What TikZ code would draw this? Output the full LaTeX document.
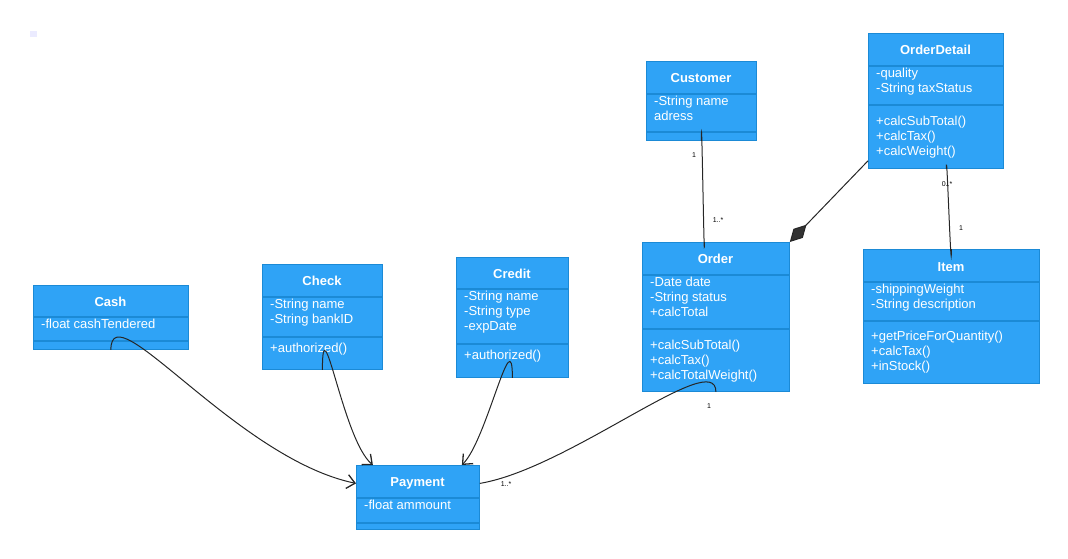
\documentclass[tikz,border=0pt]{standalone}
\usepackage{fontspec}
\setmainfont{Liberation Sans}
\usetikzlibrary{arrows.meta}
\definecolor{cfill}{HTML}{2FA3F6}
\definecolor{cline}{HTML}{1B8AD6}
\begin{document}
\begin{tikzpicture}[x=1pt,y=-1pt,
  box/.style={draw=cline,fill=cfill,anchor=north west,inner sep=0,line width=0.8pt},
  div/.style={draw=cline,line width=1.2pt},
  ttl/.style={text=white,font=\fontsize{13}{15}\selectfont\bfseries,inner sep=0},
  txt/.style={text=white,font=\fontsize{13}{15}\selectfont,anchor=north west,inner sep=0,align=left},
  lab/.style={font=\fontsize{7}{8}\selectfont,inner sep=0},
  con/.style={line width=1pt,black!85},
  arr/.style={con,-{Straight Barb[length=8pt,width=14pt,line width=1.3pt]}}]
\useasboundingbox (0,0) rectangle (1068,558);
\fill[blue!8] (30,31) rectangle (37,37);
% Cash
\node[box,minimum width=155,minimum height=64] (cash) at (33,285) {};
\draw[div] (33,317) -- (188,317) (33,341) -- (188,341);
\node[ttl] (cashT) at (110.5,302) {Cash};
\node[txt] (cashA) at (41,319) {-float cashTendered};
% Check
\node[box,minimum width=120,minimum height=105] (check) at (262,264) {};
\draw[div] (262,297) -- (382,297) (262,337) -- (382,337);
\node[ttl] (checkT) at (322,281) {Check};
\node[txt] (checkA) at (270,299) {-String name\\-String bankID};
\node[txt] (checkM) at (270,343) {+authorized()};
% Credit
\node[box,minimum width=112,minimum height=120] (credit) at (456,257) {};
\draw[div] (456,289) -- (568,289) (456,344) -- (568,344);
\node[ttl] (creditT) at (512,274) {Credit};
\node[txt] (creditA) at (464,291) {-String name\\-String type\\-expDate};
\node[txt] (creditM) at (464,350) {+authorized()};
% Payment
\node[box,minimum width=123,minimum height=64] (payment) at (356,465) {};
\draw[div] (356,498) -- (479,498) (356,523) -- (479,523);
\node[ttl] (paymentT) at (417.5,483) {Payment};
\node[txt] (paymentA) at (364,500) {-float ammount};
% Customer
\node[box,minimum width=110,minimum height=79] (customer) at (646,61) {};
\draw[div] (646,94) -- (756,94) (646,132) -- (756,132);
\node[ttl] (customerT) at (701,78) {Customer};
\node[txt] (customerA) at (654,96) {-String name\\adress};
% OrderDetail
\node[box,minimum width=135,minimum height=135] (od) at (868,33) {};
\draw[div] (868,66) -- (1003,66) (868,105) -- (1003,105);
\node[ttl] (odT) at (935.5,50) {OrderDetail};
\node[txt] (odA) at (876,68) {-quality\\-String taxStatus};
\node[txt] (odM) at (876,116) {+calcSubTotal()\\+calcTax()\\+calcWeight()};
% Order
\node[box,minimum width=147,minimum height=149] (order) at (642,242) {};
\draw[div] (642,275) -- (789,275) (642,329) -- (789,329);
\node[ttl] (orderT) at (715.5,259) {Order};
\node[txt] (orderA) at (650,277) {-Date date\\-String status\\+calcTotal};
\node[txt] (orderM) at (650,340) {+calcSubTotal()\\+calcTax()\\+calcTotalWeight()};
% Item
\node[box,minimum width=176,minimum height=134] (item) at (863,249) {};
\draw[div] (863,282) -- (1039,282) (863,321) -- (1039,321);
\node[ttl] (itemT) at (951,267) {Item};
\node[txt] (itemA) at (871,284) {-shippingWeight\\-String description};
\node[txt] (itemM) at (871,331) {+getPriceForQuantity()\\+calcTax()\\+inStock()};
% connectors
\draw[arr] (cash.south) .. controls +(0,-60) and +(-120,-25) .. ([yshift=14pt]payment.west);
\draw[arr] (check.south) .. controls +(0,-70) and +(-30,-25) .. ([xshift=-45pt]payment.north);
\draw[arr] (credit.south) .. controls +(0,-60) and +(25,-25) .. ([xshift=44pt]payment.north);
\draw[con] (order.south) .. controls +(0,-45) and +(90,-15) .. ([yshift=14pt]payment.east);
\draw[con] (customer.south) .. controls +(0,-50) and +(0,40) .. ([xshift=-11.5pt]order.north);
\draw[con,-{Diamond[fill=black!80,length=24pt,width=13pt]}] ([yshift=8pt]od.south west) -- (order.north east);
\draw[con] ([xshift=10.5pt]od.south) .. controls +(0,-30) and +(0,40) .. (item.north);
\node[lab] (l1) at (694,155) {1};
\node[lab] (l2) at (718,220) {1..*};
\node[lab] (l3) at (947,184) {0..*};
\node[lab] (l4) at (961,228) {1};
\node[lab] (l5) at (709,406) {1};
\node[lab] (l6) at (506,484) {1..*};
\end{tikzpicture}
\end{document}
